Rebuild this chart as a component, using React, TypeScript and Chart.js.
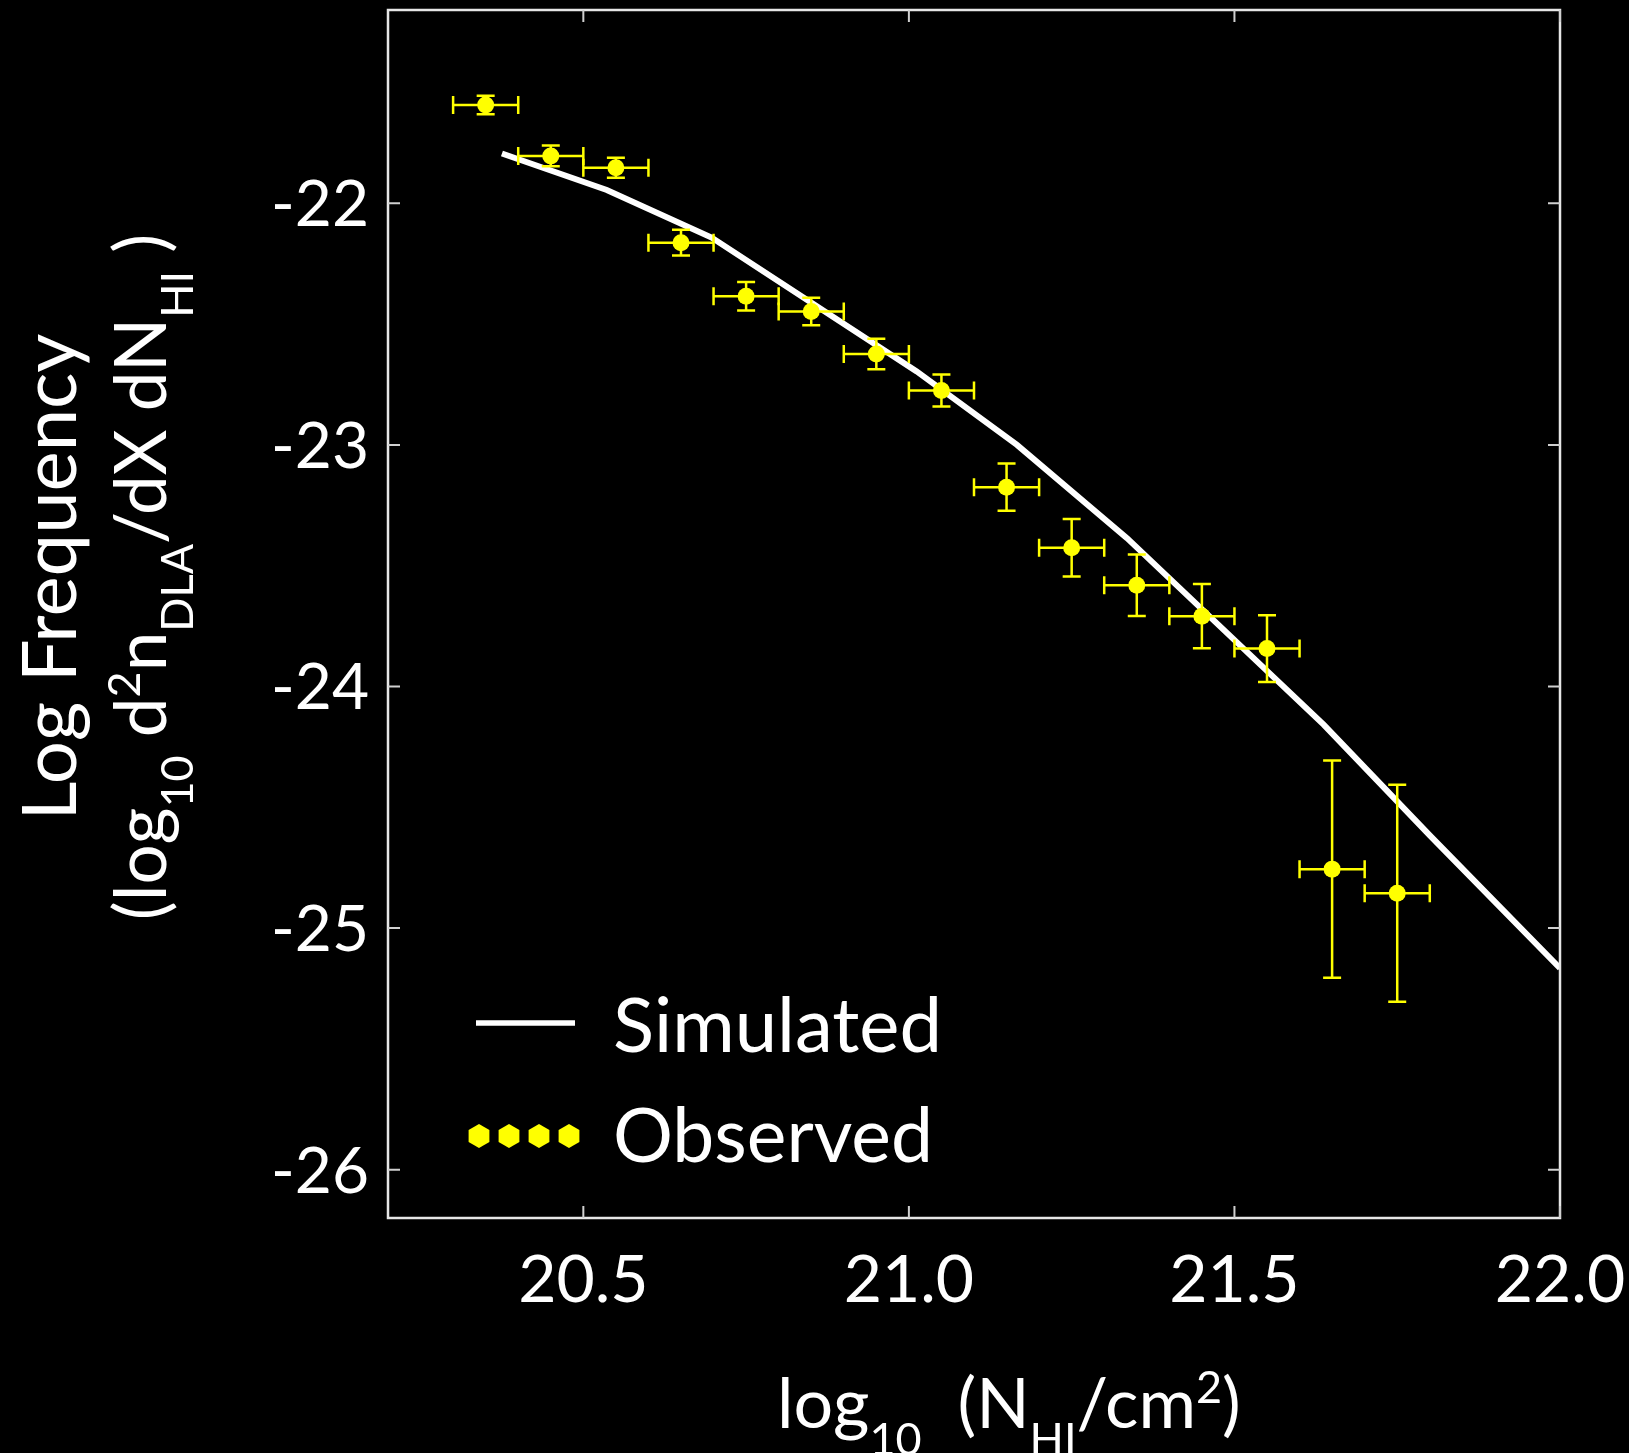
import React, { useEffect, useRef } from 'react';
import { Chart, registerables } from 'chart.js';
Chart.register(...registerables);

// Observed data (bin centres, log frequency, errors)
const obsX = [20.35, 20.45, 20.55, 20.65, 20.75, 20.85, 20.95, 21.05, 21.15, 21.25, 21.35, 21.45, 21.55, 21.65, 21.75];
const obsY = [-21.593, -21.804, -21.853, -22.163, -22.385, -22.448, -22.624, -22.775, -23.175, -23.426, -23.581, -23.709, -23.843, -24.756, -24.856];
const obsYErr = [0.038, 0.043, 0.041, 0.053, 0.059, 0.057, 0.063, 0.066, 0.098, 0.119, 0.127, 0.133, 0.138, 0.45, 0.449];
const obsXErr = [0.05, 0.05, 0.05, 0.05, 0.05, 0.05, 0.05, 0.05, 0.05, 0.05, 0.05, 0.05, 0.05, 0.05, 0.05];

// Simulated curve
const simX = [20.375, 20.536, 20.697, 20.858, 21.012, 21.166, 21.335, 21.486, 21.637, 21.8, 22.0];
const simY = [-21.794, -21.945, -22.142, -22.425, -22.696, -23.0, -23.386, -23.772, -24.158, -24.616, -25.166];

// Ticks
const xTicks = [20.5, 21.0, 21.5, 22.0];
const xTickLabels = ['20.5', '21.0', '21.5', '22.0'];
const yTicks = [-22, -23, -24, -25, -26];
const yTickLabels = ['-22', '-23', '-24', '-25', '-26'];

const FONT = 'Lato, "Open Sans", sans-serif';
const YELLOW = '#ffff00';

type Seg = { t: string; s?: 'sub' | 'sup' };

function segFont(F: number, s?: string) {
  const size = s ? Math.round(F * 0.64) : F;
  return `${size}px ${FONT}`;
}

function richWidth(ctx: CanvasRenderingContext2D, segs: Seg[], F: number) {
  let w = 0;
  for (const g of segs) {
    ctx.font = segFont(F, g.s);
    w += ctx.measureText(g.t).width;
  }
  return w;
}

function drawRich(ctx: CanvasRenderingContext2D, segs: Seg[], x: number, y: number, F: number) {
  let cx = x;
  ctx.textAlign = 'left';
  ctx.textBaseline = 'alphabetic';
  for (const g of segs) {
    ctx.font = segFont(F, g.s);
    const dy = g.s === 'sub' ? F * 0.38 : g.s === 'sup' ? -F * 0.36 : 0;
    ctx.fillText(g.t, cx, y + dy);
    cx += ctx.measureText(g.t).width;
  }
}

const xTitle: Seg[] = [
  { t: 'log' }, { t: '10', s: 'sub' }, { t: '  (N' }, { t: 'HI', s: 'sub' }, { t: '/cm' }, { t: '2', s: 'sup' }, { t: ')' },
];
const yTitle1: Seg[] = [{ t: 'Log Frequency' }];
const yTitle2: Seg[] = [
  { t: '(log' }, { t: '10', s: 'sub' }, { t: ' d' }, { t: '2', s: 'sup' }, { t: 'n' }, { t: 'DLA', s: 'sub' },
  { t: '/dX dN' }, { t: 'HI', s: 'sub' }, { t: ' )' },
];

function hexagon(ctx: CanvasRenderingContext2D, x: number, y: number, r: number) {
  ctx.beginPath();
  for (let i = 0; i < 6; i++) {
    const a = -Math.PI / 2 + (i * Math.PI) / 3;
    const px = x + r * Math.cos(a);
    const py = y + r * Math.sin(a);
    if (i === 0) ctx.moveTo(px, py);
    else ctx.lineTo(px, py);
  }
  ctx.closePath();
  ctx.fill();
}

const decorPlugin = {
  id: 'decor',
  beforeDatasetDraw(chart: any, args: any) {
    if (args.index !== 0) return;
    const ctx = chart.ctx as CanvasRenderingContext2D;
    const xs = chart.scales.x;
    const ys = chart.scales.y;
    ctx.save();
    ctx.strokeStyle = YELLOW;
    ctx.lineWidth = 2.5;
    const cap = 9;
    for (let i = 0; i < obsX.length; i++) {
      const px = xs.getPixelForValue(obsX[i]);
      const py = ys.getPixelForValue(obsY[i]);
      const x0 = xs.getPixelForValue(obsX[i] - obsXErr[i]);
      const x1 = xs.getPixelForValue(obsX[i] + obsXErr[i]);
      const y0 = ys.getPixelForValue(obsY[i] + obsYErr[i]);
      const y1 = ys.getPixelForValue(obsY[i] - obsYErr[i]);
      ctx.beginPath();
      ctx.moveTo(x0, py); ctx.lineTo(x1, py);
      ctx.moveTo(x0, py - cap); ctx.lineTo(x0, py + cap);
      ctx.moveTo(x1, py - cap); ctx.lineTo(x1, py + cap);
      ctx.moveTo(px, y0); ctx.lineTo(px, y1);
      ctx.moveTo(px - cap, y0); ctx.lineTo(px + cap, y0);
      ctx.moveTo(px - cap, y1); ctx.lineTo(px + cap, y1);
      ctx.stroke();
    }
    ctx.restore();
  },
  afterDraw(chart: any) {
    const ctx = chart.ctx as CanvasRenderingContext2D;
    const a = chart.chartArea;
    const xs = chart.scales.x;
    const ys = chart.scales.y;
    ctx.save();
    // frame
    ctx.strokeStyle = '#e6e6e6';
    ctx.lineWidth = 2.5;
    ctx.strokeRect(a.left, a.top, a.right - a.left, a.bottom - a.top);
    // ticks
    ctx.strokeStyle = '#d0d0d0';
    ctx.lineWidth = 2;
    const tl = 12;
    ctx.beginPath();
    for (const v of xTicks) {
      const px = xs.getPixelForValue(v);
      ctx.moveTo(px, a.bottom); ctx.lineTo(px, a.bottom - tl);
      ctx.moveTo(px, a.top); ctx.lineTo(px, a.top + tl);
    }
    for (const v of yTicks) {
      const py = ys.getPixelForValue(v);
      ctx.moveTo(a.left, py); ctx.lineTo(a.left + tl, py);
      ctx.moveTo(a.right, py); ctx.lineTo(a.right - tl, py);
    }
    ctx.stroke();
    // tick labels
    ctx.fillStyle = '#ffffff';
    ctx.font = `66px ${FONT}`;
    ctx.textBaseline = 'alphabetic';
    ctx.textAlign = 'center';
    xTicks.forEach((v, i) => {
      ctx.fillText(xTickLabels[i], xs.getPixelForValue(v), a.bottom + 84);
    });
    ctx.textAlign = 'right';
    ctx.font = `64px ${FONT}`;
    yTicks.forEach((v, i) => {
      ctx.fillText(yTickLabels[i], a.left - 19, ys.getPixelForValue(v) + 23);
    });
    // x title
    drawRich(ctx, xTitle, 777, 1428, 70);
    // y title
    const cy = 577;
    ctx.save();
    ctx.translate(76, cy);
    ctx.rotate(-Math.PI / 2);
    drawRich(ctx, yTitle1, -richWidth(ctx, yTitle1, 76) / 2, 0, 76);
    ctx.restore();
    ctx.save();
    ctx.translate(166, cy);
    ctx.rotate(-Math.PI / 2);
    drawRich(ctx, yTitle2, -richWidth(ctx, yTitle2, 71) / 2, 0, 71);
    ctx.restore();
    // legend
    ctx.strokeStyle = '#ffffff';
    ctx.lineWidth = 5.5;
    ctx.beginPath();
    ctx.moveTo(476, 1023); ctx.lineTo(575, 1023);
    ctx.stroke();
    ctx.font = `76px ${FONT}`;
    ctx.textAlign = 'left';
    ctx.fillStyle = '#ffffff';
    ctx.fillText('Simulated', 613, 1052);
    ctx.font = `75px ${FONT}`;
    ctx.fillText('Observed', 613, 1162);
    ctx.fillStyle = YELLOW;
    [479, 509, 539, 569].forEach((hx) => hexagon(ctx, hx, 1136, 12));
    ctx.restore();
  },
};

export default function App() {
  const ref = useRef<HTMLCanvasElement | null>(null);
  useEffect(() => {
    document.body.style.margin = '0';
    document.body.style.background = '#000';
    const canvas = ref.current!;
    const chart = new Chart(canvas, {
      type: 'scatter',
      data: {
        datasets: [
          {
            type: 'scatter',
            label: 'Observed',
            data: obsX.map((x, i) => ({ x, y: obsY[i] })),
            backgroundColor: YELLOW,
            borderWidth: 0,
            pointRadius: 8.5,
            pointStyle: 'circle',
          } as any,
          {
            type: 'line',
            label: 'Simulated',
            data: simX.map((x, i) => ({ x, y: simY[i] })),
            borderColor: '#ffffff',
            borderWidth: 6,
            pointRadius: 0,
            fill: false,
            tension: 0,
            borderCapStyle: 'butt',
            borderJoinStyle: 'miter',
          } as any,
        ],
      },
      options: {
        animation: false,
        responsive: false,
        devicePixelRatio: 1,
        layout: { padding: { left: 388, top: 10, right: 69, bottom: 235 } },
        scales: {
          x: { type: 'linear', min: 20.2, max: 22.0, display: false },
          y: { type: 'linear', min: -26.2, max: -21.2, display: false },
        },
        plugins: { legend: { display: false }, tooltip: { enabled: false } },
      },
      plugins: [decorPlugin],
    });
    return () => chart.destroy();
  }, []);
  return (
    <div style={{ width: 1629, height: 1453, background: '#000' }}>
      <canvas ref={ref} width={1629} height={1453} style={{ display: 'block', background: '#000' }} />
    </div>
  );
}
